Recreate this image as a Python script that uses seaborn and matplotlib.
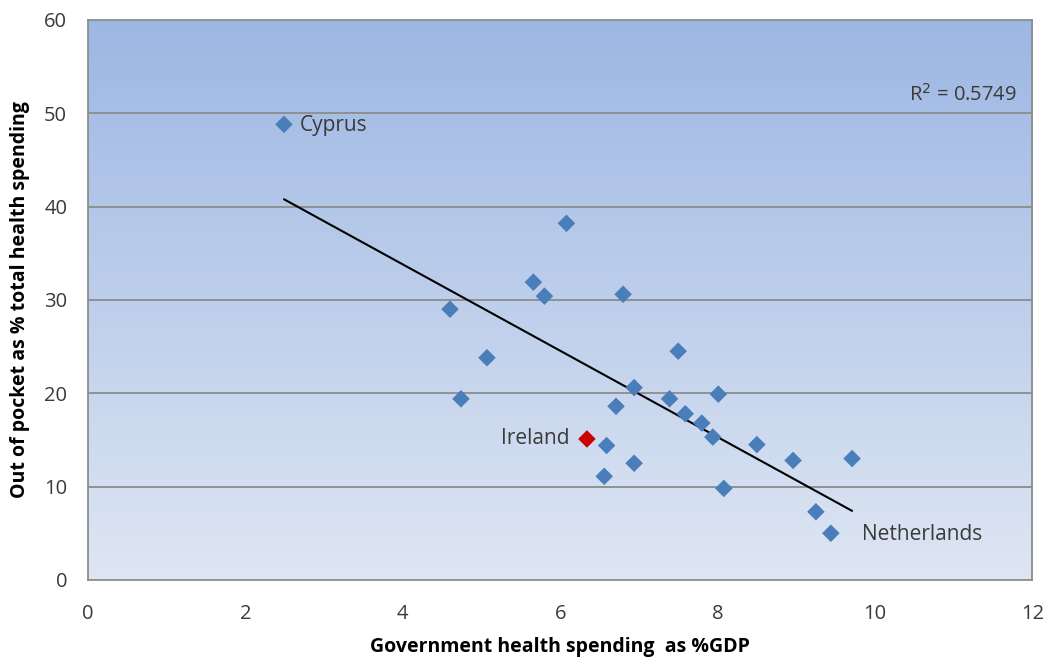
import matplotlib
matplotlib.use("Agg")
import matplotlib.pyplot as plt
import numpy as np
import pandas as pd
import seaborn as sns

# values
gov_spend = [2.49, 6.08, 5.66, 5.80, 6.80, 4.60, 5.07, 7.50, 4.74, 6.94, 7.39,
             6.71, 8.01, 7.59, 7.80, 7.94, 8.50, 6.59, 6.94, 6.56, 8.08, 8.96,
             9.71, 9.25, 9.44, 6.34]
out_of_pocket = [48.8, 38.2, 31.9, 30.4, 30.6, 29.0, 23.8, 24.5, 19.4, 20.6,
                 19.4, 18.6, 19.9, 17.8, 16.8, 15.3, 14.5, 14.4, 12.5, 11.1,
                 9.8, 12.8, 13.0, 7.3, 5.0, 15.1]
country = ["Cyprus"] + [""] * 23 + ["Netherlands", "Ireland"]
r2_text = "R$^2$ = 0.5749"

df = pd.DataFrame({"gov": gov_spend, "oop": out_of_pocket, "country": country})

sns.set_style("white")
plt.rcParams["font.family"] = ["Open Sans", "DejaVu Sans"]

fig = plt.figure(figsize=(10.48, 6.62), dpi=100)
ax = fig.add_axes([0.084, 0.124, 0.901, 0.846])

# gradient plot area
grad = np.linspace(0, 1, 256).reshape(-1, 1)
top = np.array([157, 183, 227]) / 255
bot = np.array([222, 230, 243]) / 255
img = top + (bot - top) * grad[:, :, None]
ax.imshow(img, extent=[0, 12, 0, 60], aspect="auto", zorder=0, origin="upper")

for yv in range(10, 60, 10):
    ax.axhline(yv, color="#8c8c8c", lw=1.3, zorder=1)

others = df[df["country"] != "Ireland"]
ireland = df[df["country"] == "Ireland"]
sns.scatterplot(data=others, x="gov", y="oop", marker="D", s=80,
                color="#4a7ebb", edgecolor="none", ax=ax, zorder=3)
sns.scatterplot(data=ireland, x="gov", y="oop", marker="D", s=80,
                color="#cc0000", edgecolor="none", ax=ax, zorder=4)
sns.regplot(data=df, x="gov", y="oop", scatter=False, ci=None, truncate=True,
            line_kws={"color": "black", "lw": 1.5, "zorder": 2}, ax=ax)

lab_kw = dict(fontsize=15, color="#3a3a3a", va="center")
cy = df[df["country"] == "Cyprus"].iloc[0]
ax.text(cy["gov"] + 0.2, cy["oop"] - 0.1, "Cyprus", ha="left", **lab_kw)
ir = ireland.iloc[0]
ax.text(ir["gov"] - 0.22, ir["oop"], "Ireland", ha="right", **lab_kw)
nl = df[df["country"] == "Netherlands"].iloc[0]
ax.text(nl["gov"] + 0.4, nl["oop"] - 0.1, "Netherlands", ha="left", **lab_kw)
ax.text(11.81, 52.0, r2_text, ha="right", va="center", fontsize=14.5, color="#3a3a3a")

ax.set_xlim(0, 12)
ax.set_ylim(0, 60)
ax.set_xticks(range(0, 13, 2))
ax.set_yticks(range(0, 61, 10))
ax.tick_params(axis="both", labelsize=14.5, labelcolor="#3a3a3a", length=0)
ax.tick_params(axis="x", pad=17)
ax.tick_params(axis="y", pad=15)
for sp in ax.spines.values():
    sp.set_visible(True)
    sp.set_color("#8c8c8c")
    sp.set_linewidth(1.3)

ax.set_xlabel("Government health spending  as %GDP", fontsize=14,
              fontweight="bold", color="black", labelpad=10)
ax.set_ylabel("Out of pocket as % total health spending", fontsize=14,
              fontweight="bold", color="black", labelpad=10)

fig.savefig("out.png", dpi=100)
